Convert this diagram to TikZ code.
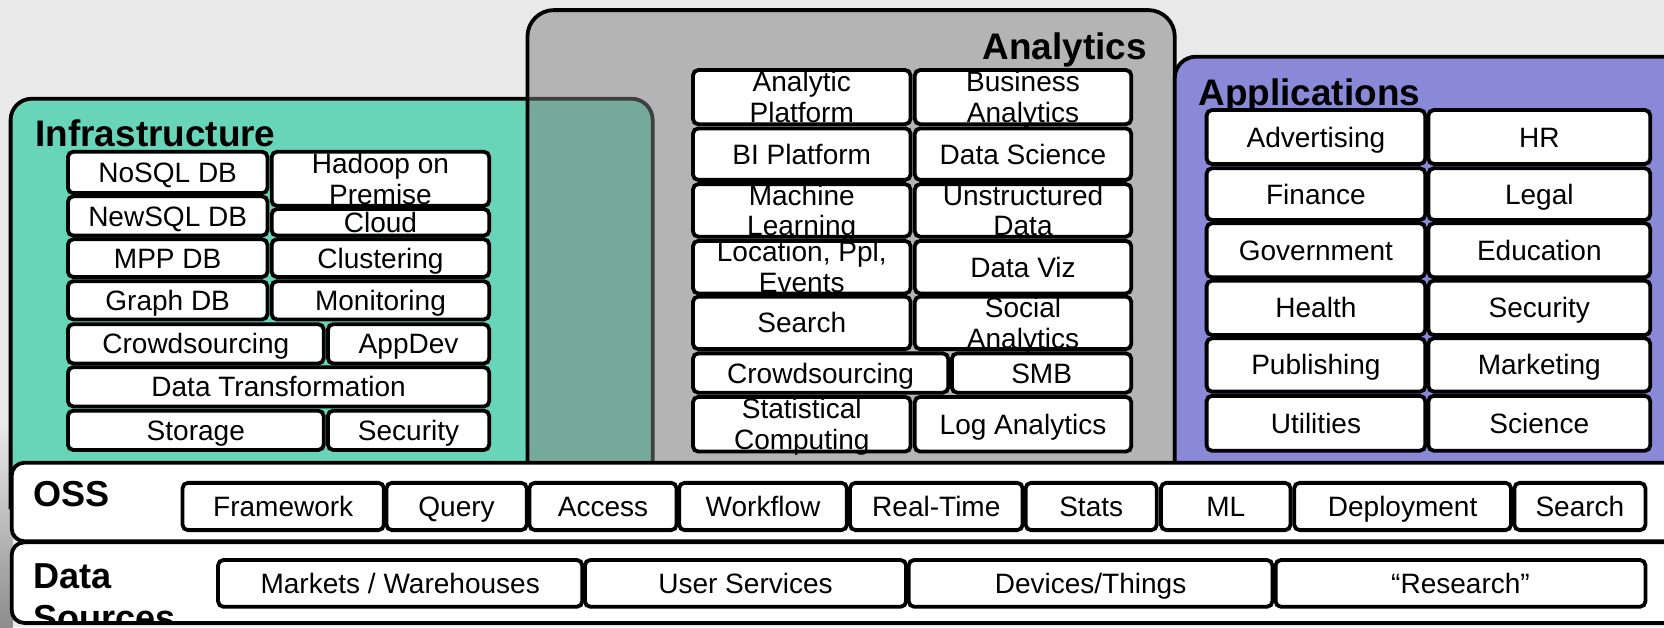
\documentclass[tikz,border=0pt]{standalone}
\usepackage{fontspec}
\setmainfont{Liberation Sans}
\definecolor{bgc}{RGB}{233,233,233}
\definecolor{tealc}{RGB}{104,212,184}
\definecolor{purpc}{RGB}{137,137,216}
\newcommand\tw[2]{\raise2.875pt\vbox to 0pt{\vss\halign{\hfil##\hfil\cr\strut #1\cr\strut #2\cr}\vss}}
\newcommand\bx[6]{%
  \pgfmathsetmacro\bxw{(#4-#2)*0.5}%
  \pgfmathsetmacro\bxh{(#5-#3)*0.5}%
  \node[bx, minimum width=\bxw pt, minimum height=\bxh pt] (#1) at ({(#2+#4)/2},{(#3+#5)/2}) {#6};}
\tikzset{
  bx/.style={draw=black, fill=white, line width=1.8pt, rounded corners=2.5pt, inner sep=0pt, outer sep=0pt,
    font=\fontsize{13.2}{14.4}\selectfont, text height=9.45pt, text depth=0pt},
  panel/.style={draw=black, line width=1.8pt},
  title/.style={font=\bfseries\fontsize{17.4}{20}\selectfont, inner sep=0pt},
  lab/.style={font=\bfseries\fontsize{17}{19.8}\selectfont, inner sep=0pt},
}
\begin{document}
\begin{tikzpicture}[x=0.5pt, y=-0.5pt]
\useasboundingbox (0,0) rectangle (1568,591);
\fill[bgc] (0,0) rectangle (1568,591);
\shade[top color=bgc, bottom color=black!45] (0,400) rectangle (12,591);
% panels
\draw[panel, fill=tealc, rounded corners=10pt] (10,480) -- (10,93) -- (615,93) -- (615,480);
\draw[panel, fill=black!50, fill opacity=0.5, rounded corners=12.5pt] (497,480) -- (497,9.5) -- (1107,9.5) -- (1107,480);
\draw[panel, fill=purpc, rounded corners=10pt] (1107,480) -- (1107,53.4) -- (1700,53.4) -- (1700,480);
% titles
\node[title, anchor=base west] (tinfra) at (33,137.6) {Infrastructure};
\node[title, anchor=base east] (tanal) at (1081,56.5) {Analytics};
\node[title, anchor=base west] (tapp) at (1129,99) {Applications};
% infrastructure
\bx{nosql}{64}{143}{252}{182}{NoSQL DB}
\bx{hadoop}{256}{143}{461}{194}{\tw{Hadoop on}{Premise}}
\bx{newsql}{64}{185}{252}{222}{NewSQL DB}
\bx{cloud}{256}{197}{461}{222}{Cloud}
\bx{mpp}{64}{225.5}{252}{261}{MPP DB}
\bx{clust}{256}{225.5}{461}{261}{Clustering}
\bx{graph}{64}{265}{252}{301}{Graph DB}
\bx{monit}{256}{265}{461}{301}{Monitoring}
\bx{icrowd}{64}{305.5}{305}{342.5}{Crowdsourcing}
\bx{appdev}{309}{305.5}{461}{342.5}{AppDev}
\bx{dtrans}{64}{346}{461}{383}{Data Transformation}
\bx{storage}{64}{387}{305}{424}{Storage}
\bx{isec}{309}{387}{461}{424}{Security}
% analytics
\bx{aplat}{653}{66}{858}{117}{\tw{Analytic}{Platform}}
\bx{busan}{862}{66}{1066}{117}{\tw{Business}{Analytics}}
\bx{biplat}{653}{121}{858}{169.5}{BI Platform}
\bx{dsci}{862}{121}{1066}{169.5}{Data Science}
\bx{mlearn}{653}{173.5}{858}{223}{\tw{Machine}{Learning}}
\bx{unstr}{862}{173.5}{1066}{223}{\tw{Unstructured}{Data}}
\bx{loc}{653}{227}{858}{276.5}{\tw{Location, Ppl,}{Events}}
\bx{dviz}{862}{227}{1066}{276.5}{Data Viz}
\bx{asearch}{653}{279.5}{858}{329}{Search}
\bx{social}{862}{279.5}{1066}{329}{\tw{Social}{Analytics}}
\bx{acrowd}{653}{333}{893.5}{370}{Crowdsourcing}
\bx{smb}{897}{333}{1066}{370}{SMB}
\bx{stat}{653}{374}{858}{425.5}{\tw{Statistical}{Computing}}
\bx{logan}{862}{374}{1066}{425.5}{Log Analytics}
% applications
\bx{advert}{1137}{103.7}{1343}{154.5}{Advertising}
\bx{hr}{1346}{103.7}{1555}{154.5}{HR}
\bx{finance}{1137}{158.6}{1343}{207.3}{Finance}
\bx{legal}{1346}{158.6}{1555}{207.3}{Legal}
\bx{govt}{1137}{210.4}{1343}{261.3}{Government}
\bx{educ}{1346}{210.4}{1555}{261.3}{Education}
\bx{health}{1137}{264.5}{1343}{315.7}{Health}
\bx{asec}{1346}{264.5}{1555}{315.7}{Security}
\bx{publ}{1137}{318.8}{1343}{369}{Publishing}
\bx{market}{1346}{318.8}{1555}{369}{Marketing}
\bx{util}{1137}{373}{1343}{424.7}{Utilities}
\bx{sci}{1346}{373}{1555}{424.7}{Science}
% bands
\draw[panel, fill=white, rounded corners=6pt] (11,436) rectangle (1700,510);
\draw[panel, fill=white, rounded corners=6pt] (11,511) rectangle (1700,587);
\node[lab, anchor=base west] (osslab) at (31,476.8) {OSS};
\begin{scope}
  \clip (11,511) rectangle (1700,585.5);
  \node[lab, anchor=base west] (dslab) at (31,554.4) {\vtop{\hbox{Data}\hbox{Sources}}};
\end{scope}
% OSS row
\bx{frame}{172}{455}{361.7}{499.5}{Framework}
\bx{query}{364.2}{455}{496.3}{499.5}{Query}
\bx{access}{498.9}{455}{637.5}{499.5}{Access}
\bx{workflow}{640}{455}{798}{499.5}{Workflow}
\bx{rtime}{801}{455}{963.6}{499.5}{Real-Time}
\bx{stats}{966.5}{455}{1090}{499.5}{Stats}
\bx{mlo}{1094}{455}{1216}{499.5}{ML}
\bx{deploy}{1219.6}{455}{1423.8}{499.5}{Deployment}
\bx{osearch}{1427}{455}{1550.5}{499.5}{Search}
% data sources row
\bx{markets}{205.5}{527.7}{548.7}{571.7}{Markets / Warehouses}
\bx{users}{551.2}{527.7}{853.8}{571.7}{User Services}
\bx{devices}{856.3}{527.7}{1199}{571.7}{Devices/Things}
\bx{research}{1202}{527.7}{1550.5}{571.7}{“Research”}
\end{tikzpicture}
\end{document}
